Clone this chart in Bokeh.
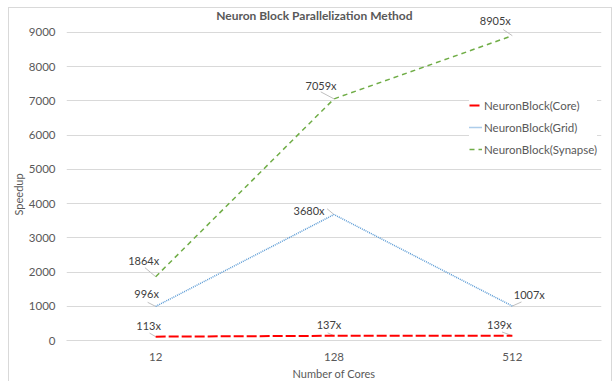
from bokeh.plotting import figure
from bokeh.models import (ColumnDataSource, Label, Range1d, FixedTicker,
                          Legend, LegendItem, FactorRange, Title)
from bokeh.embed import file_html
from bokeh.resources import INLINE

# ---- data ----
cores = ["12", "128", "512"]
core_speedup = [113, 137, 139]
grid_speedup = [996, 3680, 1007]
synapse_speedup = [1864, 7059, 8905]
series_names = ["NeuronBlock(Core)", "NeuronBlock(Grid)", "NeuronBlock(Synapse)"]
y_ticks = [0, 1000, 2000, 3000, 4000, 5000, 6000, 7000, 8000, 9000]
title_text = "Neuron Block Parallelization Method"
y_title = "Speedup"
x_title = "Number of Cores"

# ---- styling ----
FONT = "Lato"
TEXT = "#595959"
LABEL_TEXT = "#404040"
GRID = "#D9D9D9"
LEADER = "#BFBFBF"

series_styles = [
    dict(color="#FF0000", width=2.0, dash="10 3"),
    dict(color="#5B9BD5", width=1.5, dash="1 1"),
    dict(color="#70AD47", width=1.5, dash="5 4"),
]
# data-label placement per point: (dx, dy) in pixels, leader (angle deg, length px)
label_offsets = [
    [(-7, 11), (-5, 11), (-13, 11)],
    [(-9, 13), (-25, 4), (17, 12)],
    [(-12, 16), (-13, 13), (-17, 15)],
]
leaders = [
    [(150, 7), (155, 7), (160, 11)],
    [(153, 9), (140, 9), (24, 10)],
    [(140, 14), (152, 15), (146, 11)],
]

# the frame reaches up to the chart box so the title and top labels sit inside it
p = figure(frame_width=535, frame_height=332,
           x_range=FactorRange(*cores), y_range=Range1d(0, 9700),
           output_backend="svg", toolbar_location=None,
           min_border_left=50, min_border_right=10,
           min_border_top=0, min_border_bottom=37)
p.margin = (7, 0, 0, 8)
p.styles = {"border": "1px solid #D9D9D9"}
p.background_fill_color = "white"
p.border_fill_color = "white"
p.outline_line_color = None

# chart title, centred over the chart box
p.add_layout(Label(x=1.39, y=9000, y_offset=17, text=title_text,
                   text_align="center", text_baseline="middle",
                   text_font=FONT, text_font_style="bold", text_font_size="12px",
                   text_color=TEXT))

# axes
p.yaxis.ticker = FixedTicker(ticks=y_ticks)
p.yaxis.axis_line_color = None
p.yaxis.major_tick_line_color = None
p.yaxis.minor_tick_line_color = None
p.yaxis.major_tick_out = 0
p.yaxis.major_tick_in = 0
p.yaxis.minor_tick_out = 0
p.yaxis.major_label_text_font = FONT
p.yaxis.major_label_text_font_size = "11.5px"
p.yaxis.major_label_text_color = TEXT
p.yaxis.major_label_standoff = 11

# vertical axis title, centred on the 0-9000 span rather than the whole frame
p.add_layout(Title(text=y_title, align="left", offset=125, standoff=1,
                   text_font=FONT, text_font_size="11px",
                   text_font_style="normal", text_color=TEXT), "left")

p.xaxis.axis_line_color = GRID
p.xaxis.major_tick_line_color = None
p.xaxis.minor_tick_line_color = None
p.xaxis.major_tick_out = 0
p.xaxis.major_tick_in = 0
p.xaxis.major_label_text_font = FONT
p.xaxis.major_label_text_font_size = "11.5px"
p.xaxis.major_label_text_color = TEXT
p.xaxis.major_label_standoff = 12
p.xaxis.axis_label = x_title
p.xaxis.axis_label_text_font = FONT
p.xaxis.axis_label_text_font_size = "11px"
p.xaxis.axis_label_text_font_style = "normal"
p.xaxis.axis_label_text_color = TEXT
p.xaxis.axis_label_standoff = 3

p.xgrid.grid_line_color = None
p.ygrid.grid_line_color = GRID
p.ygrid.grid_line_width = 1

items = []
for name, values, style, offs, lds in zip(series_names,
                                          [core_speedup, grid_speedup, synapse_speedup],
                                          series_styles, label_offsets, leaders):
    src = ColumnDataSource(dict(
        x=cores, y=values,
        ang=[l[0] for l in lds], ln=[l[1] for l in lds],
    ))
    # leader lines from each point toward its label
    p.ray(x="x", y="y", length="ln", angle="ang", angle_units="deg",
          length_units="screen", source=src, line_color=LEADER, line_width=1)
    r = p.line(x="x", y="y", source=src, line_color=style["color"],
               line_width=style["width"], line_dash=style["dash"])
    items.append(LegendItem(label=name, renderers=[r]))
    # value labels: category i sits at the centre of its unit slot on the factor range
    for i, (v, (dx, dy)) in enumerate(zip(values, offs)):
        p.add_layout(Label(x=i + 0.5, y=v, x_offset=dx, y_offset=dy, text=f"{v}x",
                           text_align="center", text_baseline="middle",
                           text_font=FONT, text_font_size="11px",
                           text_color=LABEL_TEXT))

legend = Legend(items=items, location=(403, 183), orientation="vertical")
legend.label_text_font = FONT
legend.label_text_font_size = "11.5px"
legend.label_text_color = TEXT
legend.glyph_width = 13
legend.glyph_height = 16
legend.label_height = 16
legend.label_standoff = 2
legend.spacing = 6
legend.padding = 6
legend.margin = 0
legend.border_line_color = None
legend.background_fill_color = "white"
legend.background_fill_alpha = 1.0
p.add_layout(legend, "center")

open("out.html", "w").write(file_html(p, INLINE))
